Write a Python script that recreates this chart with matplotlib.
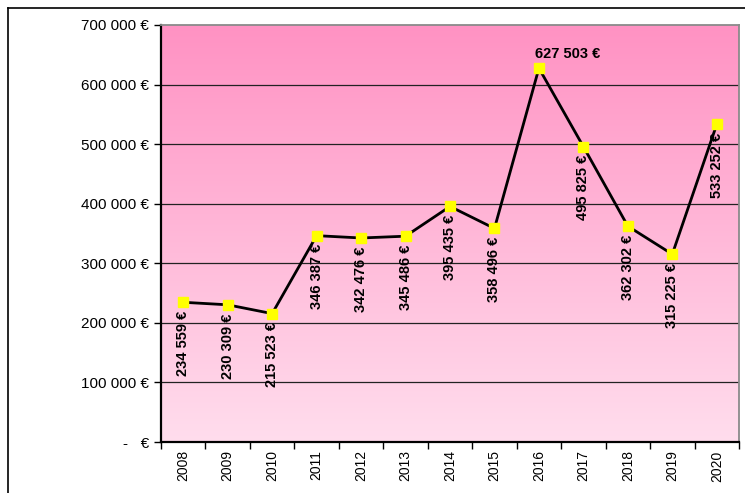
import numpy as np
import matplotlib.pyplot as plt
from matplotlib.lines import Line2D
from matplotlib.ticker import FuncFormatter

plt.rcParams['font.family'] = ['Liberation Sans', 'DejaVu Sans']

years = ['2008', '2009', '2010', '2011', '2012', '2013', '2014',
         '2015', '2016', '2017', '2018', '2019', '2020']
amounts = [234559, 230309, 215523, 346387, 342476, 345486, 395435,
           358496, 627503, 495825, 362302, 315225, 533252]
y_ticks = [0, 100000, 200000, 300000, 400000, 500000, 600000, 700000]


def euro(v):
    if v == 0:
        return '-   €'
    return '{:,}'.format(int(v)).replace(',', ' ') + ' €'


fig = plt.figure(figsize=(7.45, 4.93), dpi=100)
ax = fig.add_axes([161 / 745, 51 / 493, 578 / 745, 417 / 493])

x = np.arange(len(years))
ax.set_xlim(-0.5, len(years) - 0.5)
ax.set_ylim(0, 700000)

# pink vertical gradient background
top = np.array([255, 146, 195]) / 255.0
bot = np.array([255, 221, 237]) / 255.0
t = np.linspace(0, 1, 256)[:, None]
grad = (top * (1 - t) + bot * t)[:, None, :]
ax.imshow(grad, extent=[-0.5, len(years) - 0.5, 0, 700000],
          aspect='auto', origin='upper', zorder=0)

for v in y_ticks[1:-1]:
    ax.axhline(v, color='#222222', lw=0.9, zorder=1)

ax.plot(x, amounts, color='black', lw=2, zorder=3)
ax.plot(x, amounts, ls='none', marker='s', ms=7.5, color='#ffff00',
        mec='#ffff00', zorder=4)

for i, v in enumerate(amounts):
    if years[i] == '2016':
        # the peak label sits above, starting at the marker
        ax.annotate(euro(v), (i, v), xytext=(-3, 5), textcoords='offset points',
                    ha='left', va='bottom', fontsize=10.5, fontweight='bold',
                    zorder=5)
    else:
        ax.annotate(euro(v), (i, v), xytext=(0, -6), textcoords='offset points',
                    ha='center', va='top', rotation=90, fontsize=10.5,
                    fontweight='bold', zorder=5)

ax.set_yticks(y_ticks)
ax.yaxis.set_major_formatter(FuncFormatter(lambda v, p: euro(v)))
ax.tick_params(axis='y', labelsize=11, length=5, width=1, direction='out')

ax.set_xticks(x)
ax.set_xticklabels(years, rotation=90, fontsize=10)
ax.set_xticks(np.arange(-0.5, len(years)), minor=True)
ax.tick_params(axis='x', which='major', length=0, pad=6)
ax.tick_params(axis='x', which='minor', length=5, width=1)

for s in ['left', 'bottom']:
    ax.spines[s].set_color('black')
    ax.spines[s].set_linewidth(1.6)
for s in ['top', 'right']:
    ax.spines[s].set_color('#8a8a8a')
    ax.spines[s].set_linewidth(1.3)

# outer frame lines of the original sheet
fig.add_artist(Line2D([8 / 745, 1], [1 - 8 / 493, 1 - 8 / 493],
                      color='black', lw=1.2, transform=fig.transFigure))
fig.add_artist(Line2D([8 / 745, 8 / 745], [0, 1 - 8 / 493],
                      color='black', lw=1.2, transform=fig.transFigure))

fig.savefig('out.png', dpi=100)
